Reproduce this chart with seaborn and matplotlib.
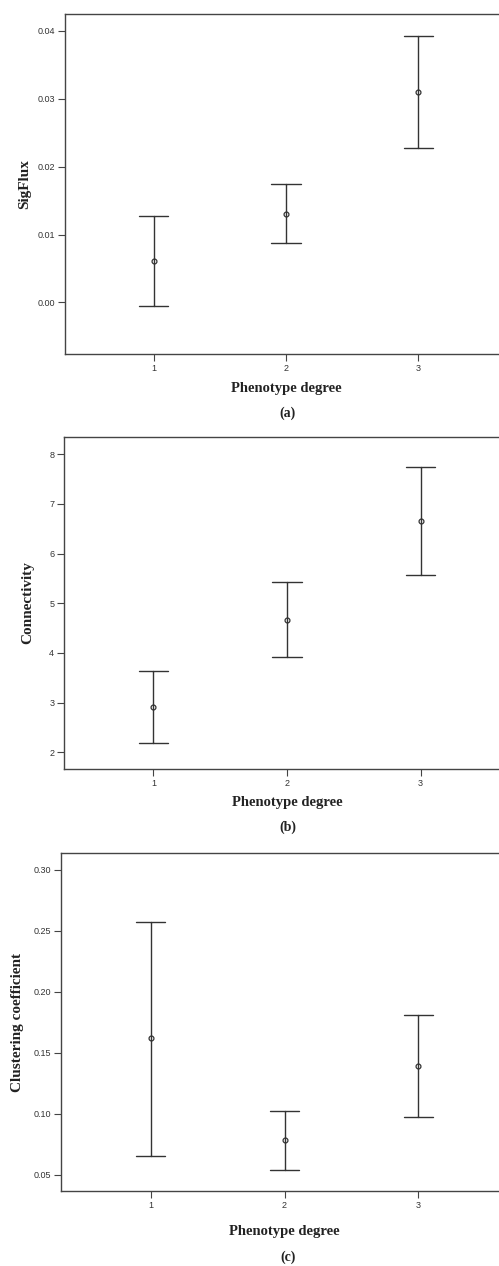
import matplotlib
matplotlib.use("Agg")
import matplotlib.pyplot as plt
import seaborn as sns
import pandas as pd
from matplotlib.ticker import FormatStrFormatter

# Phenotype degree groups
degrees = ["1", "2", "3"]

# (a) SigFlux: mean and error-bar bounds
sigflux_mean = [0.0061, 0.0131, 0.0310]
sigflux_low = [-0.0006, 0.0088, 0.0227]
sigflux_high = [0.0128, 0.0175, 0.0393]

# (b) Connectivity
conn_mean = [2.91, 4.67, 6.65]
conn_low = [2.18, 3.92, 5.57]
conn_high = [3.64, 5.43, 7.75]

# (c) Clustering coefficient
clust_mean = [0.162, 0.078, 0.139]
clust_low = [0.065, 0.054, 0.097]
clust_high = [0.257, 0.102, 0.181]

sns.set_style("white")
plt.rcParams["font.family"] = ["Liberation Sans", "DejaVu Sans"]

W, H = 499, 1266
fig = plt.figure(figsize=(W / 100, H / 100), dpi=100)

INK = "#333333"


def long_frame(mean, low, high):
    # three rows per group; median = mean, min/max = error bounds
    rows = []
    for d, m, lo, hi in zip(degrees, mean, low, high):
        for v in (lo, m, hi):
            rows.append({"degree": d, "value": v})
    return pd.DataFrame(rows)


def panel(box, mean, low, high, ylim, yticks, fmt, ylabel, tag, tag_y,
          ylabel_pad, xlabel_pad):
    left, top, right, bottom = box
    ax = fig.add_axes([left / W, 1 - bottom / H, (right - left) / W, (bottom - top) / H])
    df = long_frame(mean, low, high)
    sns.pointplot(data=df, x="degree", y="value", order=degrees,
                  estimator="median", errorbar=("pi", 100),
                  linestyle="none", marker="o", markersize=3.5,
                  markerfacecolor="white", markeredgewidth=0.9,
                  color=INK, capsize=0.22, err_kws={"linewidth": 1.0}, ax=ax)
    ax.set_xlim(-0.67, 2.67)
    ax.set_ylim(*ylim)
    ax.set_yticks(yticks)
    ax.yaxis.set_major_formatter(FormatStrFormatter(fmt))
    for s in ax.spines.values():
        s.set_color("#444444")
        s.set_linewidth(1.0)
    ax.tick_params(axis="both", which="major", direction="out", length=5,
                   width=0.8, color="#444444", labelsize=6.5, labelcolor=INK,
                   left=True, bottom=True, pad=2)
    ax.set_xlabel("Phenotype degree", family="Liberation Serif", weight="bold",
                  fontsize=10.5, color="#222222", labelpad=xlabel_pad)
    ax.set_ylabel(ylabel, family="Liberation Serif", weight="bold",
                  fontsize=11, color="#222222", labelpad=ylabel_pad)
    fig.text(288 / W, 1 - tag_y / H, tag, family="Liberation Serif", weight="bold",
             fontsize=10, color="#222222", ha="center", va="center")
    return ax


panel((65, 14, 507, 354), sigflux_mean, sigflux_low, sigflux_high,
      (-0.0076, 0.0425), [0.00, 0.01, 0.02, 0.03, 0.04], "%.2f", "SigFlux", "(a)", 413, 5, 7)
panel((64, 437, 510, 769), conn_mean, conn_low, conn_high,
      (1.66, 8.35), [2, 3, 4, 5, 6, 7, 8], "%d", "Connectivity", "(b)", 827, 11, 6)
panel((61, 853, 508, 1191), clust_mean, clust_low, clust_high,
      (0.0365, 0.3137), [0.05, 0.10, 0.15, 0.20, 0.25, 0.30], "%.2f",
      "Clustering coefficient", "(c)", 1257, 7, 11)

fig.savefig("out.png", dpi=100)
